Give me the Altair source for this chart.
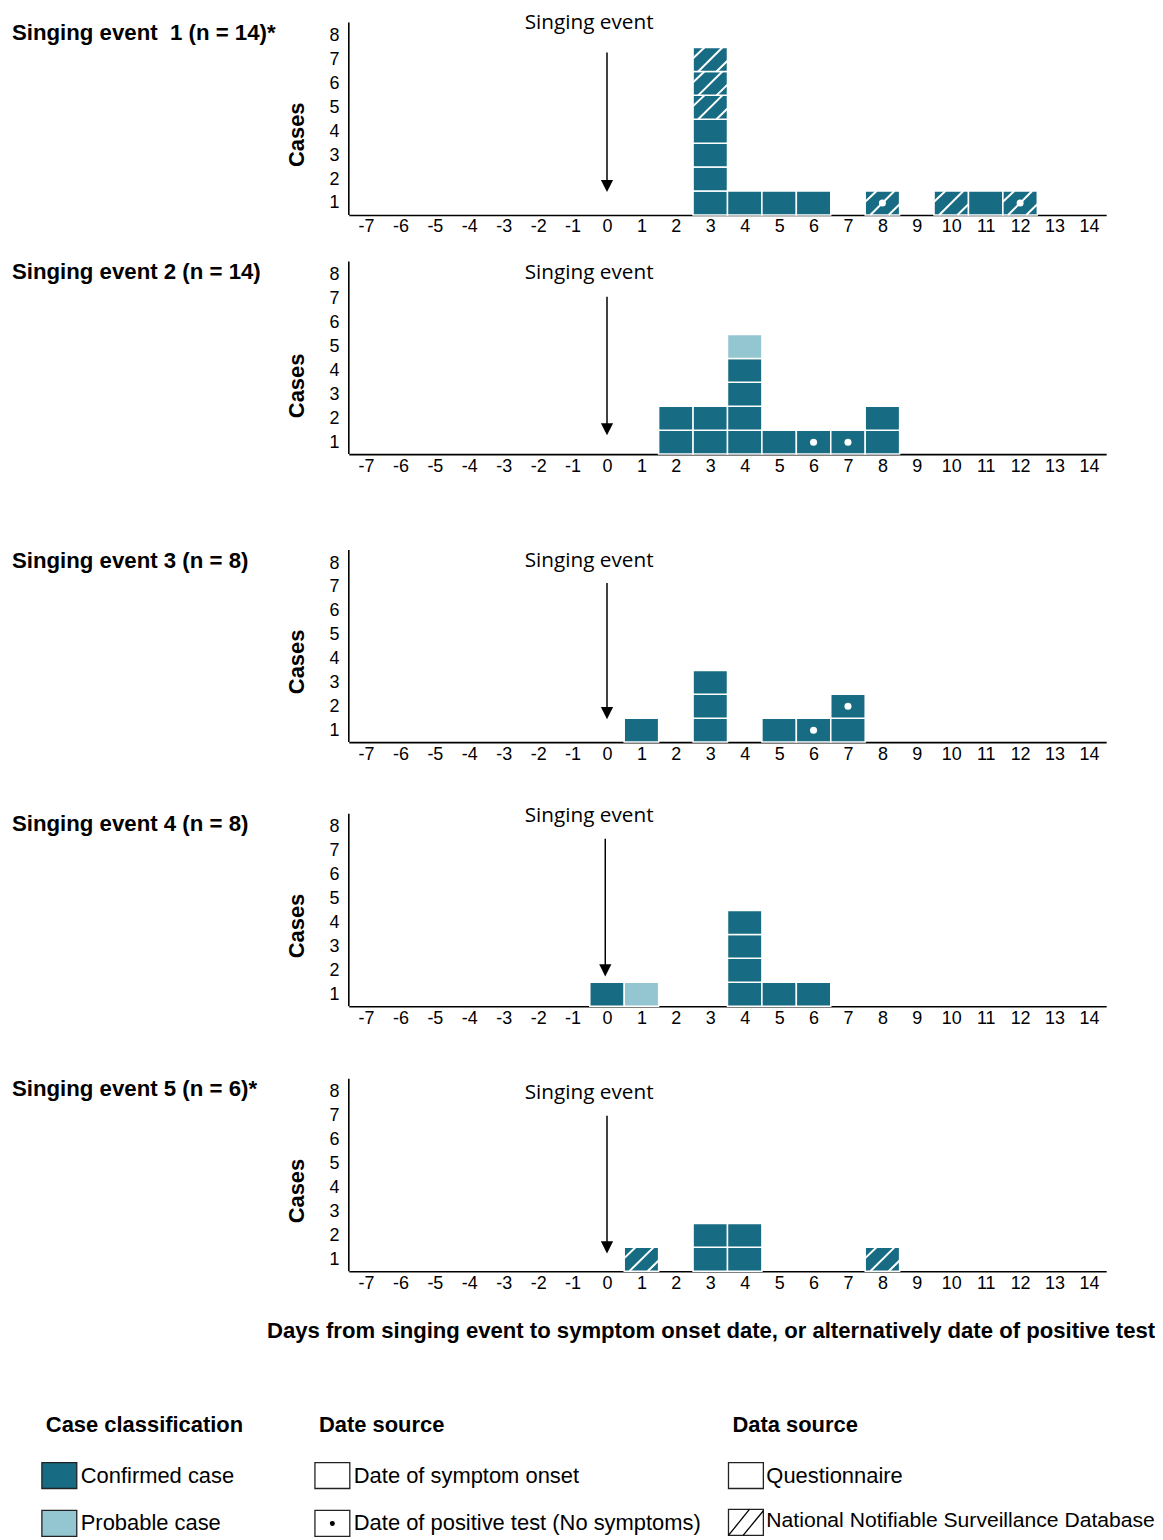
import altair as alt
import pandas as pd

# ---------------- data ----------------
DAYS = list(range(-7, 15))
CASE_TICKS = [1, 2, 3, 4, 5, 6, 7, 8]
TITLES = [
    "Singing event\u00a0 1 (n = 14)*",
    "Singing event 2 (n = 14)",
    "Singing event 3 (n = 8)",
    "Singing event 4 (n = 8)",
    "Singing event 5 (n = 6)*",
]
# cells per day, bottom -> top
# C = confirmed (questionnaire, symptom onset)   P = probable
# D = confirmed, date of positive test            H = confirmed, NNSD
# X = confirmed, NNSD, date of positive test
EVENT1 = {3: "CCCCHHH", 4: "C", 5: "C", 6: "C", 8: "X", 10: "H", 11: "C", 12: "X"}
EVENT2 = {2: "CC", 3: "CC", 4: "CCCCP", 5: "C", 6: "D", 7: "D", 8: "CC"}
EVENT3 = {1: "C", 3: "CCC", 5: "C", 6: "D", 7: "CD"}
EVENT4 = {0: "C", 1: "P", 4: "CCCC", 5: "C", 6: "C"}
EVENT5 = {1: "H", 3: "CC", 4: "CC", 8: "H"}
EVENTS = [EVENT1, EVENT2, EVENT3, EVENT4, EVENT5]

CLASSES = ["Confirmed", "Probable"]
CLASS_COLORS = ["#176b82", "#93c6d1"]

X_TITLE = "Days from singing event to symptom onset date, or alternatively date of positive test"

# ---------------- layout / style ----------------
UNIT = 24
Y_TOP = [8.0, 8.0, 10.06, 9.04, 9.08]
ARROW_TOP = [6.79, 6.58, 6.67, 7.0, 6.5]
ARROW_TIP = [0.96, 0.79, 0.96, 1.25, 0.75]
ARROW_X = [0.0, 0.0, 0.0, -0.05, 0.0]
LABEL_Y = [8.04, 7.58, 7.58, 7.96, 7.46]
CASES_OFF = [81, 69, 81, 81, 81]
W = 760
FONT = "Liberation Sans"
HATCH = [(0.0, 0.55, 0.33, 1.0), (0.15, 0.0, 0.85, 1.0), (0.68, 0.0, 1.0, 0.45)]

xscale = alt.Scale(domain=[-7.5, 14.5], nice=False, zero=False)


def panel(i):
    rows = []
    for d, s in EVENTS[i].items():
        for k, c in enumerate(s):
            rows.append(dict(day=d, level=k + 1, code=c))
    df = pd.DataFrame(rows)
    df["x"] = df.day - 0.5
    df["x2"] = df.day + 0.5
    df["y"] = df.level - 1
    df["y2"] = df.level
    df["ym"] = df.level - 0.5
    df["cls"] = df.code.map(lambda c: "Probable" if c == "P" else "Confirmed")

    hrows = []
    for _, r in df[df.code.isin(["H", "X"])].iterrows():
        for fx1, fy1, fx2, fy2 in HATCH:
            hrows.append(dict(hx=r.x + fx1, hy=r.y + fy1, hx2=r.x + fx2, hy2=r.y + fy2))
    hdf = pd.DataFrame(hrows, columns=["hx", "hy", "hx2", "hy2"])
    ddf = df[df.code.isin(["D", "X"])]

    top = Y_TOP[i]
    H = round(top * UNIT)
    yscale = alt.Scale(domain=[0, top], nice=False, zero=False)

    xaxis = alt.Axis(
        values=DAYS, labelExpr="'' + datum.value", ticks=False, grid=False,
        domainColor="black", domainWidth=1.6, labelPadding=3,
        labelFont=FONT, labelFontSize=18, labelColor="black",
        title=X_TITLE if i == 4 else "",
        titleFont=FONT, titleFontSize=22.2, titleFontWeight="bold", titleColor="black",
        titleX=363, titleY=59, titleAlign="center", titleBaseline="middle",
    )
    yaxis = alt.Axis(
        values=[v - 0.5 for v in CASE_TICKS], labelExpr="'' + (datum.value + 0.5)",
        ticks=False, grid=False, domain=False, labelPadding=10,
        labelFont=FONT, labelFontSize=18, labelColor="black",
        title="Cases", titleFont=FONT, titleFontSize=22, titleFontWeight="bold",
        titleColor="black", titleAngle=270, titleX=-52, titleY=H - CASES_OFF[i],
        titleAlign="center", titleBaseline="middle",
    )

    def X(f):
        return alt.X(f, scale=xscale, axis=xaxis)

    def Y(f):
        return alt.Y(f, scale=yscale, axis=yaxis)

    cells = alt.Chart(df).mark_rect(stroke="white", strokeWidth=1.5).encode(
        x=X("x:Q"), x2="x2:Q", y=Y("y:Q"), y2="y2:Q",
        color=alt.Color("cls:N", scale=alt.Scale(domain=CLASSES, range=CLASS_COLORS), legend=None),
    )
    yline = alt.Chart(pd.DataFrame({"x": [-7.5], "y": [0], "y2": [8.05]})).mark_rule(
        color="black", strokeWidth=1.6
    ).encode(x=X("x:Q"), y=Y("y:Q"), y2="y2:Q")
    hatch = alt.Chart(hdf).mark_rule(color="white", strokeWidth=2).encode(
        x=X("hx:Q"), x2="hx2:Q", y=Y("hy:Q"), y2="hy2:Q",
    )
    dots = alt.Chart(ddf).mark_point(filled=True, shape="circle", size=50, color="white", opacity=1).encode(
        x=X("day:Q"), y=Y("ym:Q")
    )
    adf = pd.DataFrame({"x": [ARROW_X[i]], "y": [ARROW_TOP[i]], "y2": [ARROW_TIP[i] + 0.25]})
    aline = alt.Chart(adf).mark_rule(color="black", strokeWidth=1.5).encode(
        x=X("x:Q"), y=Y("y:Q"), y2="y2:Q"
    )
    ahead = alt.Chart(adf).mark_point(
        filled=True, shape="M-1,-1L1,-1L0,1Z", size=150, color="black", opacity=1
    ).encode(x=X("x:Q"), y=Y("y2:Q"))
    tdf = pd.DataFrame({"x": [-0.52], "y": [LABEL_Y[i]], "t": ["Singing event"]})
    note = alt.Chart(tdf).mark_text(font="Open Sans", fontSize=20.8, color="black", baseline="middle").encode(
        x=X("x:Q"), y=Y("y:Q"), text="t:N"
    )
    pdf = pd.DataFrame({"y": [7.6], "t": [TITLES[i]]})
    ptitle = alt.Chart(pdf).mark_text(
        font=FONT, fontSize=22.3, fontWeight="bold", color="black", align="left", baseline="middle"
    ).encode(x=alt.value(-338), y=Y("y:Q"), text="t:N")

    return alt.layer(cells, yline, hatch, dots, aline, ahead, note, ptitle).properties(width=W, height=H)


# ---------------- legend (page-pixel frame) ----------------
LEG_TOP, LEG_H = 1322, 210
lx = alt.Scale(domain=[350, 350 + W], nice=False, zero=False)
ly = alt.Scale(domain=[LEG_TOP, LEG_TOP + LEG_H], nice=False, zero=False, reverse=True)

LEG_HEAD = ["Case classification", "Date source", "Data source"]
LEG_HEAD_X = [46, 320, 735]
LEG_ITEMS = ["Confirmed case", "Probable case", "Date of symptom onset",
             "Date of positive test (No symptoms)", "Questionnaire",
             "National Notifiable Surveillance Database"]
LEG_ITEM_X = [81, 81, 355, 355, 769, 769]
LEG_ITEM_Y = [1479, 1527, 1479, 1527, 1479, 1525]
LEG_ITEM_SIZE = [22, 22, 22, 22, 22, 21.2]
LEG_BOX_X = [42, 42, 316, 316, 731, 731]
LEG_BOX_Y = [1466, 1514, 1466, 1514, 1466, 1513]
LEG_BOX_FILL = [CLASS_COLORS[0], CLASS_COLORS[1], "white", "white", "white", "white"]

boxes = pd.DataFrame({
    "x": LEG_BOX_X, "x2": [v + 35 for v in LEG_BOX_X],
    "y": LEG_BOX_Y, "y2": [v + 26 for v in LEG_BOX_Y], "fill": LEG_BOX_FILL,
})
heads = pd.DataFrame({"x": LEG_HEAD_X, "y": [1428] * 3, "t": LEG_HEAD})
items = pd.DataFrame({"x": LEG_ITEM_X, "y": LEG_ITEM_Y, "t": LEG_ITEMS, "s": LEG_ITEM_SIZE})
ldot = pd.DataFrame({"x": [LEG_BOX_X[3] + 17.5], "y": [LEG_BOX_Y[3] + 13]})
LH = [(0.0, 0.0, 0.6, 1.0), (0.42, 0.0, 1.0, 0.95)]
lhatch = pd.DataFrame([
    dict(x=LEG_BOX_X[5] + 35 * a, y=LEG_BOX_Y[5] + 26 - 26 * b,
         x2=LEG_BOX_X[5] + 35 * c, y2=LEG_BOX_Y[5] + 26 - 26 * d)
    for a, b, c, d in LH
])

lg_boxes = alt.Chart(boxes).mark_rect(stroke="#222222", strokeWidth=1.3).encode(
    x=alt.X("x:Q", scale=lx, axis=None), x2="x2:Q",
    y=alt.Y("y:Q", scale=ly, axis=None), y2="y2:Q",
    fill=alt.Fill("fill:N", scale=None),
)
lg_heads = alt.Chart(heads).mark_text(
    font=FONT, fontSize=22, fontWeight="bold", align="left", baseline="middle", color="black"
).encode(x=alt.X("x:Q", scale=lx, axis=None), y=alt.Y("y:Q", scale=ly, axis=None), text="t:N")
lg_items = alt.Chart(items).mark_text(
    font=FONT, align="left", baseline="middle", color="black"
).encode(x=alt.X("x:Q", scale=lx, axis=None), y=alt.Y("y:Q", scale=ly, axis=None), text="t:N",
         size=alt.Size("s:Q", scale=None, legend=None))
lg_dot = alt.Chart(ldot).mark_point(filled=True, shape="circle", size=25, color="black", opacity=1).encode(
    x=alt.X("x:Q", scale=lx, axis=None), y=alt.Y("y:Q", scale=ly, axis=None)
)
lg_hatch = alt.Chart(lhatch).mark_rule(color="black", strokeWidth=1.3).encode(
    x=alt.X("x:Q", scale=lx, axis=None), x2="x2:Q",
    y=alt.Y("y:Q", scale=ly, axis=None), y2="y2:Q",
)
legend = alt.layer(lg_boxes, lg_hatch, lg_dot, lg_heads, lg_items).properties(width=W, height=LEG_H)

chart = alt.vconcat(*[panel(i) for i in range(5)], legend, spacing=48, bounds="flush").properties(
    padding={"top": 1, "left": 4, "right": 0, "bottom": 0}, background="white"
).configure_view(strokeWidth=0, stroke="transparent")

chart.save("out.html", embed_options={"renderer": "svg", "actions": False})
